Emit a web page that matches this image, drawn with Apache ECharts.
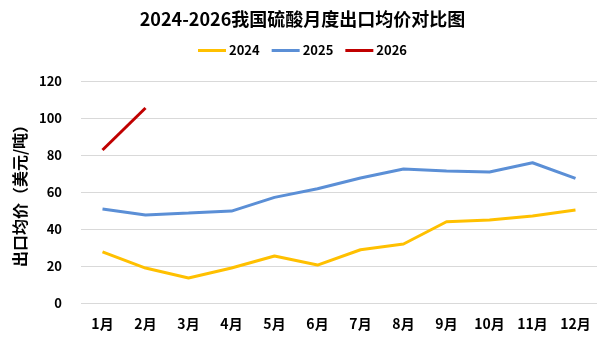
<!DOCTYPE html>
<html><head><meta charset="utf-8">
<script src="https://cdn.jsdelivr.net/npm/echarts@6/dist/echarts.min.js"></script>
<style>html,body{margin:0;padding:0;background:#fff}#c{width:605px;height:340px}</style>
</head><body><div id="c"></div>
<script>
const categories = ['1月','2月','3月','4月','5月','6月','7月','8月','9月','10月','11月','12月'];
const s2024 = [27.6, 18.9, 13.5, 18.9, 25.4, 20.5, 28.8, 31.9, 43.9, 44.9, 47.0, 50.3];
const s2025 = [50.8, 47.6, 48.6, 49.7, 57.1, 61.8, 67.6, 72.4, 71.4, 70.8, 75.8, 67.4];
const s2026 = [82.7, 105.4];
const yTicks = [0, 20, 40, 60, 80, 100, 120];
const seriesNames = ['2024', '2025', '2026'];
const colors = ['#FFC000', '#5B8FD6', '#C00000'];
const font = '"Noto Sans CJK SC", "Noto Sans", sans-serif';
const chart = echarts.init(document.getElementById('c'));
const mk = (name, data, color) => ({
  name, type: 'line', data, symbol: 'none', smooth: false,
  lineStyle: { width: 3, color }, itemStyle: { color }
});
chart.setOption({
  animation: false,
  title: { text: '2024-2026我国硫酸月度出口均价对比图', left: 'center', top: 5,
    textStyle: { fontFamily: font, fontWeight: 'bold', fontSize: 18, color: '#000' } },
  legend: { top: 39, left: 'center', itemWidth: 28, itemHeight: 3, itemGap: 12,
    icon: 'rect',
    textStyle: { fontFamily: font, fontWeight: 'bold', fontSize: 13, color: '#000', padding: [0, 0, 0, -2] },
    data: seriesNames },
  grid: { left: 81, right: 8, top: 81, bottom: 37 },
  xAxis: { type: 'category', data: categories, boundaryGap: true,
    axisLine: { show: false }, axisTick: { show: false },
    axisLabel: { fontFamily: font, fontWeight: 'bold', fontSize: 14, color: '#000', margin: 14 } },
  yAxis: { type: 'value', min: yTicks[0], max: yTicks[yTicks.length-1], interval: 20,
    name: '出口均价（美元/吨）', nameLocation: 'middle', nameGap: 46, nameRotate: 90,
    nameTextStyle: { fontFamily: font, fontWeight: 'bold', fontSize: 16, color: '#000' },
    axisLine: { show: false }, axisTick: { show: false },
    splitLine: { lineStyle: { color: '#D9D9D9', width: 1 } },
    axisLabel: { fontFamily: font, fontWeight: 'bold', fontSize: 13, color: '#000', margin: 19 } },
  series: [mk(seriesNames[0], s2024, colors[0]), mk(seriesNames[1], s2025, colors[1]), mk(seriesNames[2], s2026, colors[2])]
});
</script></body></html>
